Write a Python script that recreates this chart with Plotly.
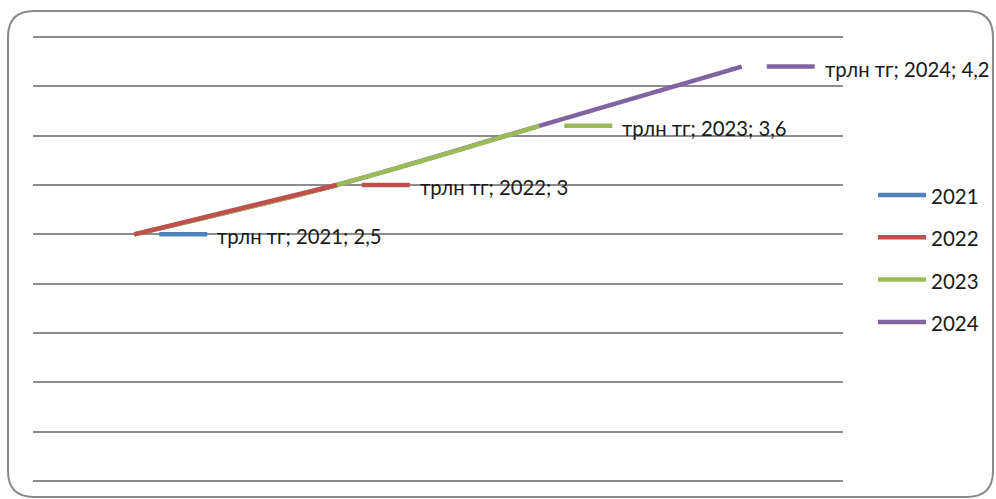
import plotly.graph_objects as go

# ---- data ----
categories = ["2021", "2022", "2023", "2024"]
series_names = ["2021", "2022", "2023", "2024"]
values = [2.5, 3.0, 3.6, 4.2]
value_text = ["2,5", "3", "3,6", "4,2"]
unit = "трлн тг"
colors = ["#4F81BD", "#C0504D", "#9BBB59", "#8064A2"]
y_max, y_step = 4.5, 0.5

W, H = 996, 499
PAD = 5  # extra pixels above/below so edge gridlines are drawn
UNIT = 444 / y_max
EPS = PAD / UNIT
L, R, T, B = 33, 153, 37 - PAD, 18 - PAD
PW, PH = W - L - R, H - T - B
FONT = "Lato"

def px_x(px):
    return (px - L) / PW

def px_y(py):
    return (H - B - py) / PH

fig = go.Figure()

x_idx = list(range(len(categories)))
# series k spans from the first category up to its own category; draw longest first
for k in reversed(range(len(series_names))):
    fig.add_trace(go.Scatter(
        x=x_idx[:k + 1], y=values[:k + 1], mode="lines",
        line=dict(color=colors[k], width=4.5, shape="spline", smoothing=1),
        name=series_names[k], showlegend=False, hoverinfo="skip"))

shapes = []
annotations = []
# data labels with legend keys
for i, cat in enumerate(categories):
    shapes.append(dict(type="line", xref="x", yref="y",
                       xsizemode="pixel", xanchor=x_idx[i], x0=25, x1=73,
                       ysizemode="pixel", yanchor=values[i], y0=0, y1=0,
                       line=dict(color=colors[i], width=4.5)))
    annotations.append(dict(x=x_idx[i], y=values[i], xref="x", yref="y",
                            text=f"{unit}; {cat}; {value_text[i]}",
                            showarrow=False, xanchor="left", yanchor="middle",
                            xshift=81, yshift=-2,
                            font=dict(family=FONT, size=20.3, color="#1a1a1a")))

# manual legend
for k, name in enumerate(series_names):
    py = 195 + 42.3 * k
    shapes.append(dict(type="line", xref="paper", yref="paper",
                       x0=px_x(878), x1=px_x(926), y0=px_y(py), y1=px_y(py),
                       line=dict(color=colors[k], width=4.5)))
    annotations.append(dict(x=px_x(929), y=px_y(py), xref="paper", yref="paper",
                            text=name, showarrow=False, xanchor="left", yanchor="middle",
                            yshift=-1,
                            font=dict(family=FONT, size=20.5, color="#1a1a1a")))

# rounded outer border
x0b, x1b, y0b, y1b, r = 8, 993, 11, 497, 26
def P(px, py):
    return f"{px_x(px):.5f},{px_y(py):.5f}"
path = (f"M {P(x0b + r, y0b)} L {P(x1b - r, y0b)} Q {P(x1b, y0b)} {P(x1b, y0b + r)} "
        f"L {P(x1b, y1b - r)} Q {P(x1b, y1b)} {P(x1b - r, y1b)} "
        f"L {P(x0b + r, y1b)} Q {P(x0b, y1b)} {P(x0b, y1b - r)} "
        f"L {P(x0b, y0b + r)} Q {P(x0b, y0b)} {P(x0b + r, y0b)} Z")
shapes.append(dict(type="path", xref="paper", yref="paper", path=path,
                   line=dict(color="#8a8a8a", width=2), layer="below"))

fig.update_layout(
    width=W, height=H, autosize=False,
    margin=dict(l=L, r=R, t=T, b=B, pad=0),
    paper_bgcolor="white", plot_bgcolor="white",
    showlegend=False,
    shapes=shapes, annotations=annotations,
    xaxis=dict(range=[-0.5, 3.5], showticklabels=False, showgrid=False,
               zeroline=False, showline=False, ticks=""),
    yaxis=dict(range=[-EPS, y_max + EPS], dtick=y_step, tick0=0, showticklabels=False,
               showgrid=True, gridcolor="#8c8c8c", gridwidth=2,
               zeroline=False, showline=False, ticks=""),
)

fig.write_html("out.html",
               config={"displayModeBar": False, "staticPlot": True},
               post_script="document.body.style.margin='0';document.body.style.overflow='hidden';")
